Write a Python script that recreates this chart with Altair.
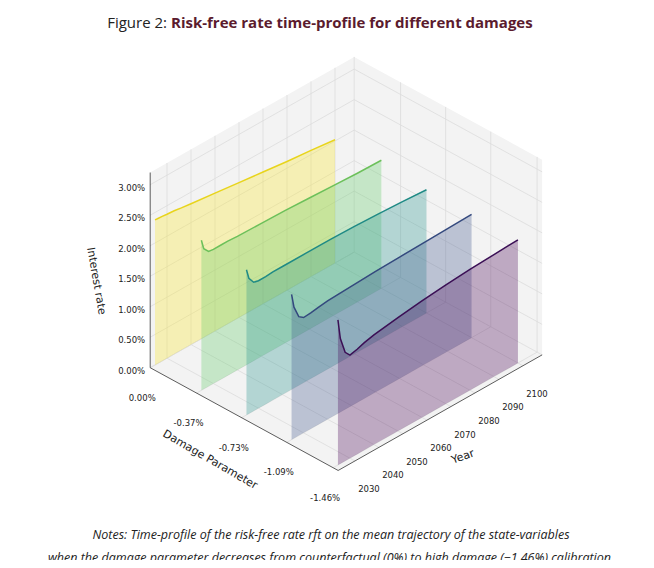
import altair as alt
import pandas as pd
import numpy as np

years = [2025, 2026, 2028, 2030, 2033, 2036, 2040, 2050, 2060, 2070, 2080, 2090, 2100]
damages = [0.0, -0.37, -0.73, -1.09, -1.46]
series_rates = [
    [2.38, 2.375, 2.37, 2.36, 2.35, 2.33, 2.31, 2.26, 2.21, 2.16, 2.11, 2.07, 2.02],
    [2.46, 2.30, 2.21, 2.20, 2.20, 2.20, 2.19, 2.18, 2.17, 2.15, 2.13, 2.11, 2.10],
    [2.38, 2.22, 2.11, 2.09, 2.09, 2.10, 2.10, 2.10, 2.10, 2.09, 2.07, 2.05, 2.02],
    [2.38, 2.15, 1.95, 1.89, 1.90, 1.92, 1.94, 1.96, 1.98, 1.99, 2.00, 2.01, 2.02],
    [2.38, 2.05, 1.78, 1.69, 1.72, 1.76, 1.80, 1.86, 1.91, 1.95, 1.98, 2.00, 2.02],
]
colors = ["#fde725", "#5ec962", "#21918c", "#3b528b", "#440154"]
line_colors = ["#e8d41c", "#6cc05a", "#1f8a85", "#34497e", "#3b0f55"]
z_ticks = [0, 0.5, 1.0, 1.5, 2.0, 2.5, 3.0]
z_labels = ["0.00%", "0.50%", "1.00%", "1.50%", "2.00%", "2.50%", "3.00%"]
d_labels = ["0.00%", "-0.37%", "-0.73%", "-1.09%", "-1.46%"]
year_ticks = [2030, 2040, 2050, 2060, 2070, 2080, 2090, 2100]

YMIN, YMAX, DMIN, ZMAX = 2023, 2108, -1.5, 3.2

def P(d, yr, z):
    X = 155 + (-d) * 125.3 + (yr - 2025) * 2.4
    Y = 365 + (-d) * 68.5 - (yr - 2025) * 1.36 - z * 61
    return X, Y

xs = alt.Scale(domain=[8, 646], nice=False, zero=False)
ys = alt.Scale(domain=[8, 560], nice=False, zero=False, reverse=True)
X = lambda f="x": alt.X(f"{f}:Q", scale=xs, axis=None)
Y = lambda f="y": alt.Y(f"{f}:Q", scale=ys, axis=None)
PANE = "#f3f3f3"
GRID = "#dcdcdc"

layers = []
def strip(points_bottom, points_top):
    rows = []
    for (b, t) in zip(points_bottom, points_top):
        rows.append({"x": b[0], "y": t[1], "y2": b[1]})
    return pd.DataFrame(rows)

w1 = strip([P(0, YMIN, 0), P(0, YMAX, 0)], [P(0, YMIN, ZMAX), P(0, YMAX, ZMAX)])
w2 = strip([P(0, YMAX, 0), P(DMIN, YMAX, 0)], [P(0, YMAX, ZMAX), P(DMIN, YMAX, ZMAX)])
A, B, C, D = P(0, YMIN, 0), P(0, YMAX, 0), P(DMIN, YMAX, 0), P(DMIN, YMIN, 0)
fx = sorted([A[0], B[0], C[0], D[0]])
up = np.interp(fx, [A[0], B[0], C[0]], [A[1], B[1], C[1]])
lo = np.interp(fx, [A[0], D[0], C[0]], [A[1], D[1], C[1]])
floor = pd.DataFrame({"x": fx, "y": up, "y2": lo})
for w in (w1, w2, floor):
    layers.append(alt.Chart(w).mark_area(color=PANE).encode(
        x=X(), y=Y(), y2="y2:Q"))

segs = []
for z in z_ticks:
    segs.append((P(0, YMIN, z), P(0, YMAX, z)))
    segs.append((P(0, YMAX, z), P(DMIN, YMAX, z)))
for yr in year_ticks:
    segs.append((P(0, yr, 0), P(0, yr, ZMAX)))
    segs.append((P(0, yr, 0), P(DMIN, yr, 0)))
for d in damages:
    segs.append((P(d, YMAX, 0), P(d, YMAX, ZMAX)))
    segs.append((P(d, YMIN, 0), P(d, YMAX, 0)))
gdf = pd.DataFrame([{"x": a[0], "y": a[1], "x2": b[0], "y2": b[1]} for a, b in segs])
layers.append(alt.Chart(gdf).mark_rule(color=GRID, strokeWidth=0.8).encode(
    x=X(), y=Y(), x2="x2:Q", y2="y2:Q"))

ax = [(P(0, YMIN, 0), P(0, YMIN, ZMAX)), (P(0, YMIN, 0), P(DMIN, YMIN, 0)),
      (P(DMIN, YMIN, 0), P(DMIN, YMAX, 0))]
adf = pd.DataFrame([{"x": a[0], "y": a[1], "x2": b[0], "y2": b[1]} for a, b in ax])
layers.append(alt.Chart(adf).mark_rule(color="#333", strokeWidth=0.8).encode(
    x=X(), y=Y(), x2="x2:Q", y2="y2:Q"))

for i, (d, rates) in enumerate(zip(damages, series_rates)):
    rows = []
    for yr, r in zip(years, rates):
        bx, by = P(d, yr, 0)
        tx, ty = P(d, yr, r)
        rows.append({"x": bx, "y": ty, "y2": by})
    df = pd.DataFrame(rows)
    layers.append(alt.Chart(df).mark_area(color=colors[i], opacity=0.3).encode(
        x=X(), y=Y(), y2="y2:Q"))
    layers.append(alt.Chart(df).mark_line(color=line_colors[i], strokeWidth=1.5).encode(
        x=X(), y=Y()))

def text_layer(df, **kw):
    return alt.Chart(df).mark_text(font="DejaVu Sans", fontSize=8.5, color="#222", **kw).encode(
        x=X(), y=Y(), text="t:N")

zl = pd.DataFrame([{"x": P(0, YMIN, z)[0] - 5, "y": P(0, YMIN, z)[1] + 3, "t": t}
                   for z, t in zip(z_ticks, z_labels)])
layers.append(text_layer(zl, align="right"))
dl = pd.DataFrame([{"x": P(d, YMIN, 0)[0] - 8, "y": P(d, YMIN, 0)[1] + 30, "t": t}
                   for d, t in zip(damages, d_labels)])
layers.append(text_layer(dl, align="center"))
yl = pd.DataFrame([{"x": P(DMIN, yr, 0)[0] + 14, "y": P(DMIN, yr, 0)[1] + 28, "t": str(yr)}
                   for yr in year_ticks])
layers.append(text_layer(yl, align="center"))

def title_layer(x, y, t, angle):
    return alt.Chart(pd.DataFrame([{"x": x, "y": y, "t": t}])).mark_text(
        font="DejaVu Sans", fontSize=11, color="#222", angle=angle).encode(
        x=X(), y=Y(), text="t:N")

layers.append(title_layer(96, 281, "Interest rate", 80))
layers.append(title_layer(210, 460, "Damage Parameter", 30))
layers.append(title_layer(463, 457, "Year", 340))

layers.append(alt.Chart(pd.DataFrame([{"x": 167, "y": 23, "t": "Figure 2:"}])).mark_text(
    font="Open Sans", fontSize=15, color="#222", align="right").encode(x=X(), y=Y(), text="t:N"))
layers.append(alt.Chart(pd.DataFrame([{"x": 171, "y": 23, "t": "Risk-free rate time-profile for different damages"}])).mark_text(
    font="Open Sans", fontSize=15, fontWeight="bold", color="#5b1b2e", align="left").encode(x=X(), y=Y(), text="t:N"))
notes = pd.DataFrame([
    {"x": 331, "y": 535, "t": "Notes: Time-profile of the risk-free rate rft on the mean trajectory of the state-variables"},
    {"x": 331, "y": 558, "t": "when the damage parameter decreases from counterfactual (0%) to high damage (\u22121.46%) calibration."},
])
layers.append(alt.Chart(notes).mark_text(font="Open Sans", fontSize=12.5, fontStyle="italic",
                                         color="#222").encode(x=X(), y=Y(), text="t:N"))

chart = alt.layer(*layers).properties(
    width=638, height=552, padding=0, autosize=alt.AutoSizeParams(type="none"),
    background="white").configure_view(stroke=None)
chart.save("out.html", embed_options={"renderer": "svg", "actions": False})
